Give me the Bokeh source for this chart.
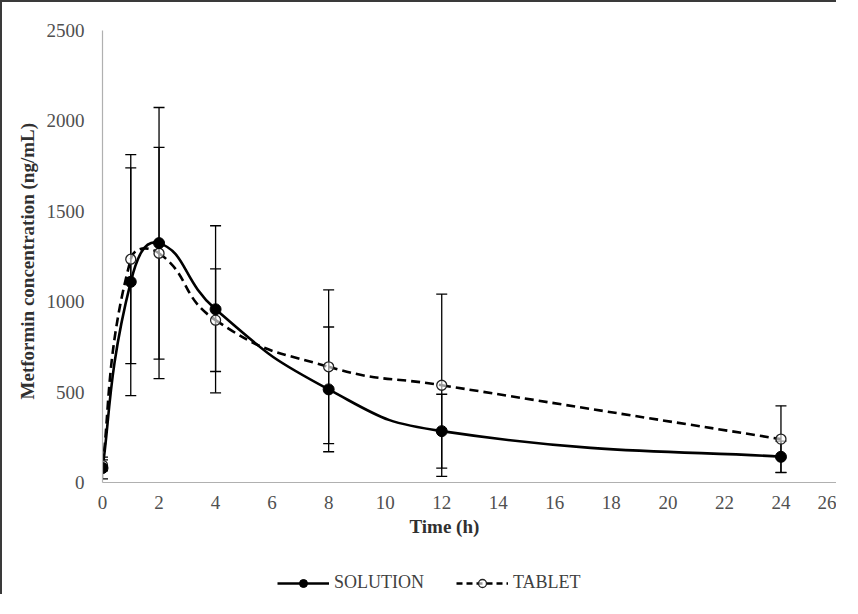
from bokeh.plotting import figure
from bokeh.layouts import column
from bokeh.models import (Range1d, FixedTicker, Whisker, TeeHead, ColumnDataSource,
                          Legend, LegendItem, Title)
from bokeh.embed import file_html
from bokeh.resources import INLINE

# ---- data ----
time_h = [0, 1, 2, 4, 8, 12, 24]
solution_mean = [80, 1110, 1324, 958, 515, 284, 142]
solution_sd = [60, 630, 750, 462, 345, 204, 87]
tablet_mean = [95, 1235, 1268, 898, 640, 538, 240]
tablet_sd = [30, 578, 586, 284, 425, 504, 184]
x_ticks = list(range(0, 27, 2))
y_ticks = [0, 500, 1000, 1500, 2000, 2500]

SERIF = "Liberation Serif"
X_MAX, Y_MAX = 26, 2500
FRAME_W, FRAME_H = 735, 452          # frame size in px
SX, SY = FRAME_W / X_MAX, FRAME_H / Y_MAX
BORDER = "2px solid #3a3a3a"
LEFT, RIGHT = 100, 1                 # shared borders so both frames line up


def smooth_segments(x, y, k=0.5):
    """Bezier control points for an Excel-like smoothed line, derived from the data
    (tangent through neighbours, weighted by on-screen segment lengths)."""
    n = len(x)

    def dist(i, j):
        return (((x[j] - x[i]) * SX) ** 2 + ((y[j] - y[i]) * SY) ** 2) ** 0.5

    d = dict(x0=[], y0=[], x1=[], y1=[], cx0=[], cy0=[], cx1=[], cy1=[])
    for i in range(n - 1):
        a = i - 1 if i > 0 else i
        b = i + 2 if i + 2 < n else i + 1
        r0 = dist(i, i + 1) / (dist(a, i) + dist(i, i + 1))
        r1 = dist(i, i + 1) / (dist(i, i + 1) + dist(i + 1, b))
        f0 = k * r0 * (0.5 if a == i else 1)
        f1 = k * r1 * (0.5 if b == i + 1 else 1)
        d["x0"].append(x[i]); d["y0"].append(y[i])
        d["x1"].append(x[i + 1]); d["y1"].append(y[i + 1])
        d["cx0"].append(x[i] + (x[i + 1] - x[a]) * f0)
        d["cy0"].append(y[i] + (y[i + 1] - y[a]) * f0)
        d["cx1"].append(x[i + 1] - (x[b] - x[i]) * f1)
        d["cy1"].append(y[i + 1] - (y[b] - y[i]) * f1)
    return ColumnDataSource(d)


p = figure(width=836, height=548, output_backend="svg", toolbar_location=None,
           x_range=Range1d(0, X_MAX), y_range=Range1d(0, Y_MAX),
           min_border_left=LEFT, min_border_top=28, min_border_right=RIGHT,
           min_border_bottom=68)
p.styles = {"border-top": BORDER, "border-left": BORDER}
p.outline_line_color = None
p.grid.visible = False
p.background_fill_color = "white"
p.border_fill_color = "white"

# axes
p.xaxis.ticker = FixedTicker(ticks=x_ticks)
p.yaxis.ticker = FixedTicker(ticks=y_ticks)
for ax in (p.xaxis[0], p.yaxis[0]):
    ax.axis_line_color = "#b0b0b0"
    ax.axis_line_width = 1.2
    ax.major_tick_line_color = None
    ax.minor_tick_line_color = None
    ax.major_tick_out = 0
    ax.major_tick_in = 0
    ax.major_label_text_font = SERIF
    ax.major_label_text_font_size = "19px"
    ax.major_label_text_color = "#505050"
p.xaxis.major_label_standoff = 13
p.yaxis.major_label_standoff = 18
p.yaxis.axis_label = "Metformin  concentration  (ng/mL)"
p.yaxis.axis_label_text_font = SERIF
p.yaxis.axis_label_text_font_style = "bold"
p.yaxis.axis_label_text_font_size = "19px"
p.yaxis.axis_label_text_color = "#303030"
p.yaxis.axis_label_standoff = 6

p.add_layout(Title(text="Time (h)", align="left", offset=307, standoff=4,
                   text_font=SERIF, text_font_style="bold", text_font_size="19px",
                   text_color="#303030"), "below")

# error bars
def bars(mean, sd):
    return ColumnDataSource(dict(t=time_h,
                                 up=[m + s for m, s in zip(mean, sd)],
                                 lo=[m - s for m, s in zip(mean, sd)]))

for mean, sd in ((solution_mean, solution_sd), (tablet_mean, tablet_sd)):
    p.add_layout(Whisker(source=bars(mean, sd), base="t", upper="up", lower="lo",
                         line_color="black", line_width=1.3,
                         upper_head=TeeHead(size=11, line_color="black", line_width=1.3),
                         lower_head=TeeHead(size=11, line_color="black", line_width=1.3)))

# smoothed lines
SOL_LINE = dict(line_color="black", line_width=2.6)
TAB_LINE = dict(line_color="black", line_width=2.6, line_dash="9 5")
BZ = dict(x0="x0", y0="y0", x1="x1", y1="y1", cx0="cx0", cy0="cy0", cx1="cx1", cy1="cy1")
p.bezier(source=smooth_segments(time_h, tablet_mean), **BZ, **TAB_LINE)
p.bezier(source=smooth_segments(time_h, solution_mean), **BZ, **SOL_LINE)

TAB_MARK = dict(marker="circle", size=10, fill_color="white", fill_alpha=0.6,
                line_color="#222222", line_width=1.3)
SOL_MARK = dict(marker="circle", size=11, fill_color="black", line_color="black")
p.scatter(time_h, tablet_mean, **TAB_MARK)
p.scatter(time_h, solution_mean, **SOL_MARK)

# ---- legend strip below the chart (own canvas; its series lie outside its view) ----
lg = figure(width=836, height=46, output_backend="svg", toolbar_location=None,
            x_axis_location=None, y_axis_location=None,
            x_range=Range1d(-200, -100), y_range=Range1d(-9000, -8000),
            min_border_left=LEFT, min_border_right=RIGHT,
            min_border_top=0, min_border_bottom=0)
lg.styles = {"border-left": BORDER}
lg.outline_line_color = None
lg.grid.visible = False
lg.background_fill_color = "white"
lg.border_fill_color = "white"

sol_leg_line = lg.line(time_h, solution_mean, **SOL_LINE)
sol_leg_pt = lg.scatter(time_h, solution_mean, **SOL_MARK)
tab_leg_line = lg.line(time_h, tablet_mean, line_color="black", line_width=2.6,
                       line_dash="6 4")
tab_leg_pt = lg.scatter(time_h, tablet_mean, **TAB_MARK)

legend = Legend(items=[LegendItem(label="SOLUTION", renderers=[sol_leg_line, sol_leg_pt]),
                       LegendItem(label="TABLET", renderers=[tab_leg_line, tab_leg_pt])],
                orientation="horizontal", location=(175, 1),
                glyph_width=52, glyph_height=20, label_standoff=5, spacing=32,
                padding=0, margin=0, border_line_color=None, background_fill_alpha=0,
                label_text_font=SERIF, label_text_font_size="18px",
                label_text_color="#404040")
lg.add_layout(legend, "center")

layout = column(p, lg, spacing=0)
open("out.html", "w").write(file_html(layout, INLINE))
